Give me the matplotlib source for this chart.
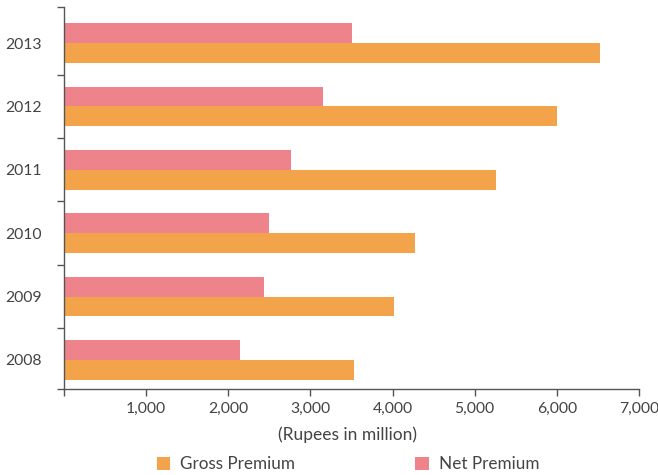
import matplotlib
matplotlib.use("Agg")
import matplotlib.pyplot as plt
from matplotlib.patches import Patch
import numpy as np

years = ["2008", "2009", "2010", "2011", "2012", "2013"]
gross_premium = [3535, 4023, 4267, 5256, 6000, 6520]
net_premium = [2140, 2430, 2500, 2767, 3151, 3512]
x_ticks = [0, 1000, 2000, 3000, 4000, 5000, 6000, 7000]
x_tick_labels = ["", "1,000", "2,000", "3,000", "4,000", "5,000", "6,000", "7,000"]

orange = "#F3A44A"
pink = "#EE838B"
txt = "#444444"
axc = "#555555"

plt.rcParams['font.family'] = ['Lato', 'DejaVu Sans']

fig = plt.figure(figsize=(6.58, 4.75), dpi=100)
ax = fig.add_axes([64/658, 1-389/475, (639-64)/658, (389-7)/475])

y = np.arange(len(years))
h = 0.315
ax.barh(y + h/2, net_premium, height=h, color=pink, label="Net Premium")
ax.barh(y - h/2, gross_premium, height=h, color=orange, label="Gross Premium")

ax.set_xlim(0, 7000)
ylo, yhi = -0.46, 5.57
ax.set_ylim(ylo, yhi)

for s in ["top", "right"]:
    ax.spines[s].set_visible(False)
for s in ["left", "bottom"]:
    ax.spines[s].set_color(axc)
    ax.spines[s].set_linewidth(1.0)

ax.set_xticks(x_ticks)
ax.set_xticklabels(x_tick_labels, fontsize=11.3, color=txt)
ax.tick_params(axis='x', direction='out', length=5, width=1, color=axc, pad=4)

ax.set_yticks(y)
ax.set_yticklabels(years, fontsize=11.3, color=txt)
ax.tick_params(axis='y', which='major', length=0, pad=16)
ax.set_yticks([ylo, 0.5, 1.5, 2.5, 3.5, 4.5, yhi], minor=True)
ax.tick_params(axis='y', which='minor', direction='out', length=5, width=1, color=axc)

fig.text(347/658, 1-435/475, "(Rupees in million)", ha='center', va='center',
         fontsize=12.5, color=txt)

handles = [Patch(facecolor=orange, label="Gross Premium"),
           Patch(facecolor=pink, label="Net Premium")]
fig.legend(handles=handles, loc='center', bbox_to_anchor=(348/658, 1-464/475),
           ncol=2, frameon=False, fontsize=12.3, labelcolor=txt,
           handlelength=0.8, handleheight=0.8, handletextpad=0.6,
           columnspacing=7.0, borderpad=0)

fig.savefig("out.png", dpi=100)
